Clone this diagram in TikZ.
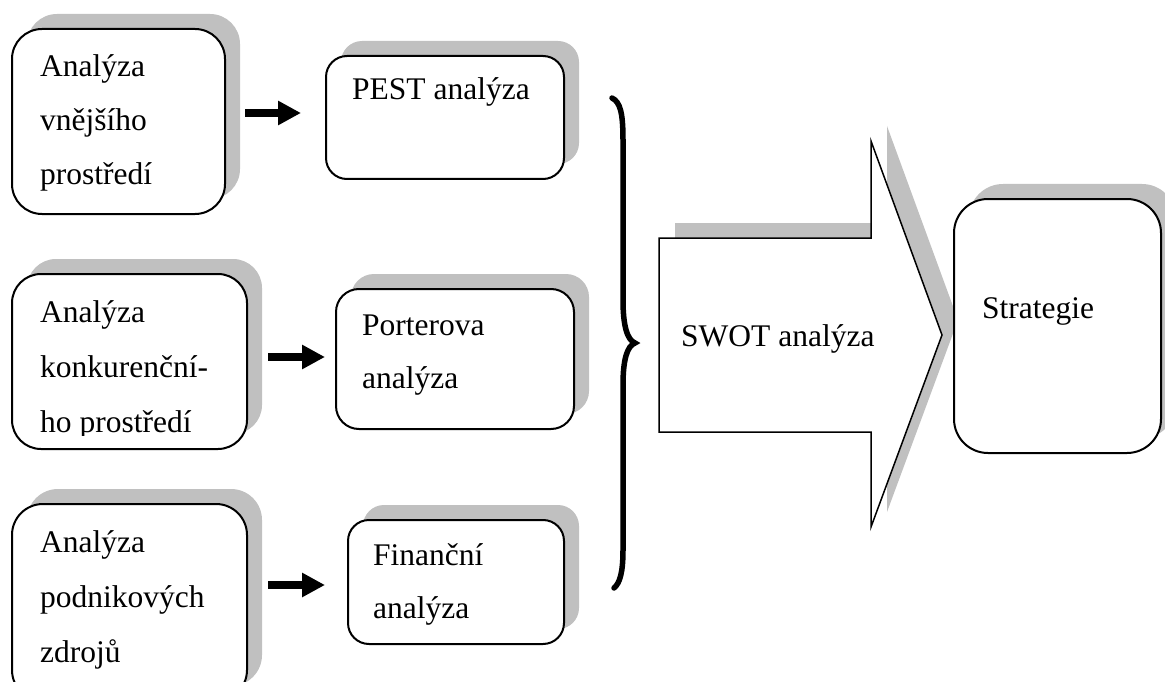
\documentclass[tikz,border=0pt]{standalone}
\usepackage{fontspec}
\setmainfont{Liberation Serif}
\usetikzlibrary{arrows.meta,shadows,calc}
\definecolor{shgray}{RGB}{192,192,192}
\begin{document}
\begin{tikzpicture}[x=1pt,y=-1pt,
  box/.style={draw=black, line width=2pt, fill=white, rectangle, anchor=north west, inner sep=0pt,
    drop shadow={shadow xshift=15pt, shadow yshift=15pt, fill=shgray, opacity=1, draw=none}},
  txt/.style={anchor=base west, inner sep=0pt, font=\fontsize{31.5}{38}\selectfont},
  harrow/.style={line width=8pt, -{Triangle[length=23pt,width=23pt]}},
  bigarrow/.style={draw=black, line width=1.5pt, fill=white, line join=miter},
  brace/.style={line width=5.5pt, line cap=round}
]
\clip (0,0) rectangle (1165,682);
\fill[white] (0,0) rectangle (1165,682);

% left boxes
\node[box, rounded corners=30pt, minimum width=213pt, minimum height=185pt] (b1) at (11,28) {};
\node[box, rounded corners=29pt, minimum width=235pt, minimum height=175pt] (b2) at (11,273) {};
\node[box, rounded corners=31pt, minimum width=235pt, minimum height=197pt] (b3) at (11,503) {};

\node[txt] (t1a) at (40,77) {Analýza};
\node[txt] (t1b) at (40,131) {vnějšího};
\node[txt] (t1c) at (40,185) {prostředí};

\begin{scope}
\clip (b2.north west) rectangle ([yshift=15pt]b2.south east);
\node[txt] (t2a) at (40,322) {Analýza};
\node[txt] (t2b) at (40,377) {konkurenční-};
\node[txt] (t2c) at (40,432) {ho prostředí};
\end{scope}

\node[txt] (t3a) at (40,552) {Analýza};
\node[txt] (t3b) at (40,607) {podnikových};
\node[txt] (t3c) at (40,662) {zdrojů};

% middle boxes
\node[box, rounded corners=21pt, minimum width=238pt, minimum height=123pt] (pest) at (325,55) {};
\node[box, rounded corners=23pt, minimum width=238pt, minimum height=140pt] (porter) at (335,288) {};
\node[box, rounded corners=21pt, minimum width=216pt, minimum height=124pt] (fin) at (347,519) {};

\node[txt] (tp) at (352,100) {PEST analýza};
\node[txt] (tpa) at (362,335) {Porterova};
\node[txt] (tpb) at (362,388) {analýza};
\node[txt] (tfa) at (373,565) {Finanční};
\node[txt] (tfb) at (373,618) {analýza};

% small arrows
\coordinate (a1s) at (245,113); \coordinate (a1e) at (301,113);
\coordinate (a2s) at (268,357); \coordinate (a2e) at (325,357);
\coordinate (a3s) at (268,585); \coordinate (a3e) at (325,585);
\draw[harrow] (a1s) -- (a1e);
\draw[harrow] (a2s) -- (a2e);
\draw[harrow] (a3s) -- (a3e);

% brace
\draw[brace] (612,98) .. controls (620,102) and (623,112) .. (623,140) -- (623,300)
  .. controls (623,325) and (627,340) .. (635,343)
  .. controls (627,346) and (623,360) .. (623,385) -- (623,550)
  .. controls (623,572) and (620,583) .. (614,588);

% SWOT big arrow
\fill[shgray, shift={(16,-15)}] (659,238) -- (871,238) -- (871,141) -- (942,335) -- (871,527) -- (871,432) -- (659,432) -- cycle;
\draw[bigarrow] (659,238) -- (871,238) -- (871,141) -- (942,335) -- (871,527) -- (871,432) -- (659,432) -- cycle;
\node[txt] (swot) at (681,346) {SWOT analýza};

% strategy box
\node[box, rounded corners=34pt, minimum width=207pt, minimum height=254pt] (strat) at (953,198) {};
\node[txt] (ts) at (982,318) {Strategie};
\end{tikzpicture}
\end{document}
